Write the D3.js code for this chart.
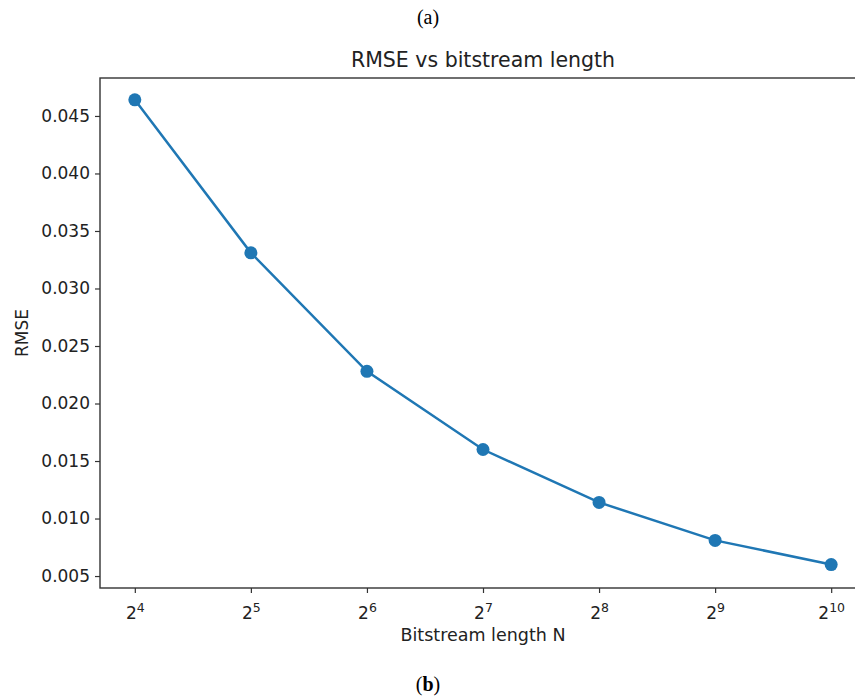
<!DOCTYPE html>
<html lang="en">
<head>
    <meta charset="UTF-8">
    <title>RMSE vs bitstream length</title>
    <script src="https://d3js.org/d3.v7.min.js"></script>
    <style>
        body { margin: 0; background: #fff; }
        svg { display: block; }
    </style>
</head>
<body>
    <script>
        // data
        var exponents = [4, 5, 6, 7, 8, 9, 10];
        var rmse = [0.0464, 0.0331, 0.0228, 0.0160, 0.0114, 0.0081, 0.0060];
        var yTicks = [0.005, 0.010, 0.015, 0.020, 0.025, 0.030, 0.035, 0.040, 0.045];

        var width = 855, height = 697;
        var plotL = 100, plotR = 866, plotT = 78, plotB = 588;
        var font = "DejaVu Sans, sans-serif";
        var blue = "#1f77b4";

        var svg = d3.select("body").append("svg")
            .attr("width", width)
            .attr("height", height);

        // log2 x axis with matplotlib style 5% margins
        var x = d3.scaleLog().base(2)
            .domain([Math.pow(2, 3.7), Math.pow(2, 10.3)])
            .range([plotL, plotR]);

        var y = d3.scaleLinear()
            .domain([0.00396, 0.0483])
            .range([plotB, plotT]);

        // panel labels
        svg.append("text")
            .attr("x", 428).attr("y", 24)
            .attr("text-anchor", "middle")
            .attr("font-family", "Liberation Serif, serif")
            .attr("font-size", 20)
            .text("(a)");

        var b = svg.append("text")
            .attr("x", 428).attr("y", 691)
            .attr("text-anchor", "middle")
            .attr("font-family", "Liberation Serif, serif")
            .attr("font-size", 20);
        b.append("tspan").text("(");
        b.append("tspan").attr("font-weight", "bold").text("b");
        b.append("tspan").text(")");

        // title
        svg.append("text")
            .attr("x", (plotL + plotR) / 2).attr("y", 67)
            .attr("text-anchor", "middle")
            .attr("font-family", font)
            .attr("font-size", 20.5)
            .attr("fill", "#222")
            .text("RMSE vs bitstream length");

        // frame
        svg.append("rect")
            .attr("x", plotL).attr("y", plotT)
            .attr("width", plotR - plotL).attr("height", plotB - plotT)
            .attr("fill", "none")
            .attr("stroke", "#333")
            .attr("stroke-width", 1.4);

        // y axis
        var yAxis = svg.append("g")
            .attr("transform", "translate(" + plotL + ",0)")
            .call(d3.axisLeft(y).tickValues(yTicks).tickSize(5).tickPadding(5)
                .tickFormat(d3.format(".3f")));
        yAxis.select(".domain").remove();
        yAxis.selectAll("line").attr("stroke", "#333").attr("stroke-width", 1.2);
        yAxis.selectAll("text")
            .attr("font-family", font)
            .attr("font-size", 17)
            .attr("fill", "#222");

        // x axis
        var xAxis = svg.append("g")
            .attr("transform", "translate(0," + plotB + ")")
            .call(d3.axisBottom(x)
                .tickValues(exponents.map(function(e) { return Math.pow(2, e); }))
                .tickSize(5).tickPadding(8)
                .tickFormat(function() { return ""; }));
        xAxis.select(".domain").remove();
        xAxis.selectAll("line").attr("stroke", "#333").attr("stroke-width", 1.2);
        xAxis.selectAll("text").each(function(d) {
            var t = d3.select(this)
                .attr("font-family", font)
                .attr("font-size", 17)
                .attr("fill", "#222")
                .attr("dy", "1.05em");
            t.append("tspan").text("2");
            t.append("tspan")
                .attr("font-size", 12.5)
                .attr("dy", "-0.55em")
                .text(Math.round(Math.log2(d)));
        });

        // axis labels
        svg.append("text")
            .attr("x", (plotL + plotR) / 2).attr("y", 641)
            .attr("text-anchor", "middle")
            .attr("font-family", font)
            .attr("font-size", 17.5)
            .attr("fill", "#222")
            .text("Bitstream length N");

        svg.append("text")
            .attr("transform", "translate(28," + (plotT + plotB) / 2 + ") rotate(-90)")
            .attr("text-anchor", "middle")
            .attr("font-family", font)
            .attr("font-size", 17)
            .attr("fill", "#222")
            .text("RMSE");

        // line + markers
        var pts = exponents.map(function(e, i) { return [Math.pow(2, e), rmse[i]]; });

        svg.append("path")
            .datum(pts)
            .attr("fill", "none")
            .attr("stroke", blue)
            .attr("stroke-width", 2.5)
            .attr("d", d3.line()
                .x(function(d) { return x(d[0]); })
                .y(function(d) { return y(d[1]); }));

        svg.append("g")
            .selectAll("circle")
            .data(pts)
            .enter().append("circle")
            .attr("cx", function(d) { return x(d[0]); })
            .attr("cy", function(d) { return y(d[1]); })
            .attr("r", 6.5)
            .attr("fill", blue);
    </script>
</body>
</html>
